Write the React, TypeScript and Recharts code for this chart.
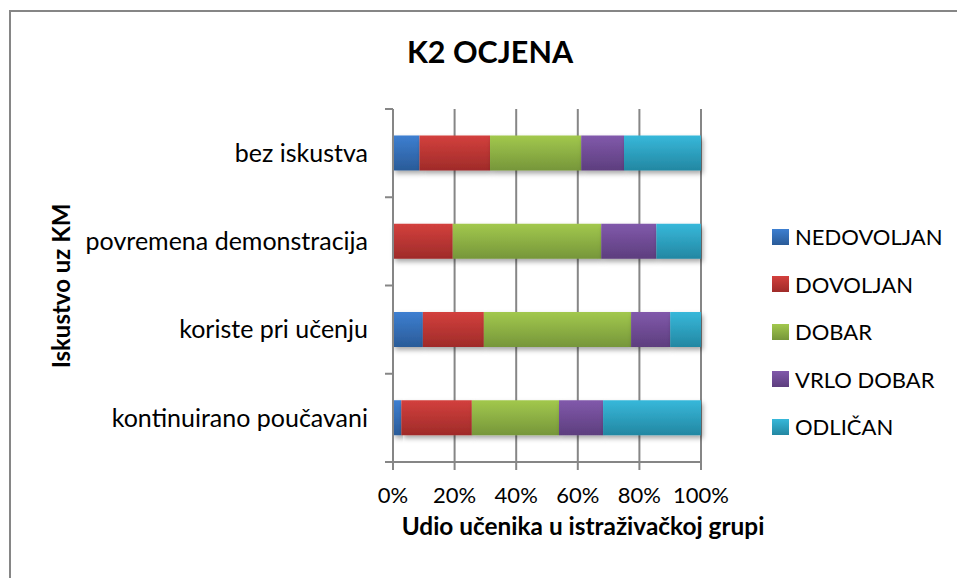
import {Bar, BarChart, CartesianGrid, Legend, Rectangle, XAxis, YAxis} from 'recharts';

// kategorije (os Y) i udjeli ocjena u postocima
const categories = ['bez iskustva', 'povremena demonstracija', 'koriste pri učenju', 'kontinuirano poučavani'];
const nedovoljan = [8.6, 0, 9.7, 2.7];
const dovoljan = [22.9, 19.4, 19.8, 22.9];
const dobar = [29.6, 48.2, 47.8, 28.3];
const vrloDobar = [13.9, 17.9, 12.7, 14.3];
const odlican = [25.0, 14.5, 10.0, 31.8];
const xTicks = [0, 20, 40, 60, 80, 100];

const series = [
  {key: 'NEDOVOLJAN', values: nedovoljan, top: '#3d7fd1', bottom: '#2a5b98'},
  {key: 'DOVOLJAN', values: dovoljan, top: '#d3403d', bottom: '#9f2b29'},
  {key: 'DOBAR', values: dobar, top: '#a2c84d', bottom: '#76963a'},
  {key: 'VRLO DOBAR', values: vrloDobar, top: '#8159ab', bottom: '#5d3e7e'},
  {key: 'ODLIČAN', values: odlican, top: '#37b8da', bottom: '#2387a2'},
];

const data = categories.map((name, i) => {
  const row: Record<string, string | number> = {name};
  series.forEach((s) => (row[s.key] = s.values[i]));
  return row;
});

const FONT = 'Lato, "Open Sans", sans-serif';
const GRAY = '#868686';
const TICK_SIZE = 8;
const TICK_MARGIN = 17;

function CategoryTick(props: any) {
  const {x, y, payload, index, visibleTicksCount} = props;
  const axisX = x + TICK_SIZE + TICK_MARGIN;
  const half = payload?.offset ?? 44;
  return (
    <g>
      <text x={x} y={y} dy="0.35em" textAnchor="end" fontFamily={FONT} fontSize={25} fill="#000">
        {payload.value}
      </text>
      <line x1={axisX - TICK_SIZE} x2={axisX} y1={y - half} y2={y - half} stroke={GRAY} strokeWidth={2} />
      {index === visibleTicksCount - 1 && (
        <line x1={axisX - TICK_SIZE} x2={axisX} y1={y + half} y2={y + half} stroke={GRAY} strokeWidth={2} />
      )}
    </g>
  );
}

function LegendBox() {
  return (
    <div style={{fontFamily: FONT, fontSize: 22, color: '#000'}}>
      {series.map((s) => (
        <div key={s.key} style={{display: 'flex', alignItems: 'center', height: 47.5}}>
          <span
            style={{
              width: 17,
              height: 16,
              marginRight: 6,
              background: `linear-gradient(${s.top}, ${s.bottom})`,
            }}
          />
          <span>{s.key}</span>
        </div>
      ))}
    </div>
  );
}

export default function App() {
  return (
    <div style={{position: 'absolute', left: 0, top: 0, width: 957, height: 578, overflow: 'hidden', background: '#fff'}}>
      <div style={{position: 'absolute', left: 9, top: 10, width: 980, height: 600, border: `2px solid ${GRAY}`}} />

      <BarChart
        width={957}
        height={578}
        layout="vertical"
        data={data}
        margin={{top: 109, right: 256, bottom: 76, left: 0}}
        barCategoryGap="30%"
      >
        <defs>
          {series.map((s, i) => (
            <linearGradient key={s.key} id={`grad-${i}`} x1="0" y1="0" x2="0" y2="1">
              <stop offset="0%" stopColor={s.top} />
              <stop offset="100%" stopColor={s.bottom} />
            </linearGradient>
          ))}
          <filter id="bshadow" x="-10%" y="-20%" width="130%" height="160%">
            <feDropShadow dx="2" dy="3" stdDeviation="2.5" floodColor="#000" floodOpacity="0.35" />
          </filter>
        </defs>
        <CartesianGrid horizontal={false} stroke={GRAY} strokeWidth={2} />
        <XAxis
          type="number"
          domain={[0, 100]}
          ticks={xTicks}
          height={40}
          tickFormatter={(v) => `${v}%`}
          axisLine={{stroke: GRAY, strokeWidth: 2}}
          tickLine={{stroke: GRAY, strokeWidth: 2}}
          tickSize={TICK_SIZE}
          tickMargin={17}
          tick={{fontFamily: FONT, fontSize: 22, fill: '#000'}}
        />
        <YAxis
          type="category"
          dataKey="name"
          width={393}
          axisLine={{stroke: GRAY, strokeWidth: 2}}
          tickLine={false}
          tickSize={TICK_SIZE}
          tickMargin={TICK_MARGIN}
          tick={<CategoryTick />}
          interval={0}
        />
        {series.map((s, i) => (
          <Bar
            key={s.key}
            dataKey={s.key}
            stackId="a"
            fill={`url(#grad-${i})`}
            isAnimationActive={false}
            shape={(p: any) => <Rectangle {...p} filter="url(#bshadow)" />}
          />
        ))}
        <Legend
          layout="horizontal"
          align="center"
          verticalAlign="middle"
          wrapperStyle={{left: 772, top: 213, width: 180}}
          content={() => <LegendBox />}
        />
      </BarChart>

      <div
        style={{
          position: 'absolute',
          left: 0,
          width: 980,
          top: 33,
          textAlign: 'center',
          fontFamily: FONT,
          fontWeight: 700,
          fontSize: 30.5,
        }}
      >
        K2 OCJENA
      </div>
      <div
        style={{
          position: 'absolute',
          left: 373,
          width: 420,
          top: 511,
          textAlign: 'center',
          fontFamily: FONT,
          fontWeight: 700,
          fontSize: 24.4,
        }}
      >
        Udio učenika u istraživačkoj grupi
      </div>
      <div
        style={{
          position: 'absolute',
          left: 60,
          top: 286,
          transform: 'translate(-50%, -50%) rotate(-90deg)',
          whiteSpace: 'nowrap',
          fontFamily: FONT,
          fontWeight: 700,
          fontSize: 24,
        }}
      >
        Iskustvo uz KM
      </div>
    </div>
  );
}
